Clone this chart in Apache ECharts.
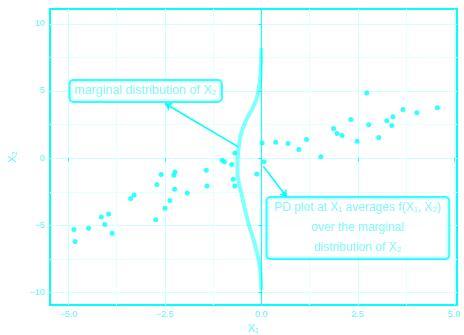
<!DOCTYPE html>
<html>
<head>
<meta charset="utf-8">
<script src="https://cdn.jsdelivr.net/npm/echarts@6/dist/echarts.min.js"></script>
<style>
html,body{margin:0;padding:0;background:#fff;}
#chart{width:464px;height:335px;}
</style>
</head>
<body>
<div id="chart"></div>
<script>
// ---- data ----
var pointsX1 = [-4.86,-4.83,-4.48,-4.15,-3.96,-4.06,-3.87,-3.39,-3.30,-2.60,-2.71,-2.50,-2.74,-2.37,-2.24,-2.27,-2.25,-1.92,-1.43,-1.41,-1.02,-0.96,-0.77,-0.69,-0.73,-0.69,-0.12,0.07,0.02,0.37,0.69,0.97,1.17,1.54,1.87,1.96,2.09,2.32,2.48,2.73,2.78,3.04,3.25,3.41,3.38,3.67,4.03,4.56];
var pointsX2 = [-5.31,-6.20,-5.21,-4.37,-4.15,-4.94,-5.58,-3.00,-2.73,-1.22,-1.96,-3.72,-4.57,-3.15,-1.02,-1.27,-2.31,-2.58,-0.89,-2.06,-0.15,-0.27,-0.47,0.39,-1.56,-2.06,-1.17,-0.27,1.14,1.19,1.09,0.65,1.39,0.10,2.21,1.84,1.69,2.88,1.27,4.86,2.48,1.54,2.78,3.08,2.43,3.62,3.38,3.75];
var densityX2 = [8.2, 7.0, 6.0, 5.0, 4.3, 3.6, 3.0, 2.4, 1.8, 1.2, 0.5, -0.3, -1.0, -1.8, -2.6, -3.9, -5.1, -6.3, -7.6, -8.6, -9.8];
var densityX1 = [0, -0.01, -0.03, -0.08, -0.14, -0.25, -0.37, -0.46, -0.53, -0.57, -0.60, -0.62, -0.62, -0.59, -0.52, -0.42, -0.31, -0.18, -0.07, -0.02, 0];
var pdX1 = 0;
var xTicks = [-5, -2.5, 0, 2.5, 5];
var xMinor = [-3.75, -1.25, 1.25, 3.75];
var yTicks = [-10, -5, 0, 5, 10];
var yMinor = [-7.5, -2.5, 2.5, 7.5];
var xTickLabels = ['\u22125.0', '\u22122.5', '0.0', '2.5', '5.0'];
var yTickLabels = ['\u221210', '\u22125', '0', '5', '10'];
var xRange = [-5.48, 5.07];
var yRange = [-10.92, 11.1];
var label1 = {x: -3, y: 5, text: 'marginal distribution of X\u2082'};
var label2 = {x: 2.5, y: -5.2, text: 'PD plot at X\u2081 averages f(X\u2081, X\u2082)\nover the marginal\ndistribution of X\u2082'};
var arrow1 = [[-0.6, 0.84], [-2.5, 4.07]];
var arrow2 = [[0.05, -0.6], [0.66, -2.9]];

var CYAN = '#00ffff';
var TXT = '#66f5f5';
var FONT = 'Liberation Sans';

var pts = pointsX1.map(function (v, i) { return [v, pointsX2[i]]; });
var dens = densityX1.map(function (v, i) { return [v, densityX2[i]]; });

function fmt(ticks, labels) {
  return function (v) {
    for (var i = 0; i < ticks.length; i++) if (Math.abs(ticks[i] - v) < 1e-6) return labels[i];
    return '';
  };
}

var chart = echarts.init(document.getElementById('chart'), null, {renderer: 'canvas'});
chart.setOption({
  animation: false,
  backgroundColor: '#ffffff',
  grid: [
    {left: 50, right: 7, top: 9, bottom: 30, containLabel: false, outerBoundsMode: 'none',
     show: true, borderColor: CYAN, borderWidth: 2, backgroundColor: 'transparent'}
  ],
  xAxis: [
    {
      type: 'value', min: xRange[0], max: xRange[1], gridIndex: 0,
      name: 'X\u2081', nameLocation: 'middle', nameGap: 14,
      nameTextStyle: {color: TXT, fontSize: 11, fontFamily: FONT},
      axisLine: {show: false},
      axisTick: {show: true, length: 3, lineStyle: {color: CYAN, width: 1}, customValues: xTicks},
      axisLabel: {color: TXT, fontSize: 9, fontFamily: FONT, margin: 5, customValues: xTicks, formatter: fmt(xTicks, xTickLabels)},
      splitLine: {show: true, lineStyle: {color: '#d0ffff', width: 1}}
    },
    {
      type: 'value', min: xRange[0], max: xRange[1], gridIndex: 0, position: 'bottom',
      axisLine: {show: false},
      axisTick: {show: false, customValues: xMinor},
      axisLabel: {show: false, customValues: xMinor},
      splitLine: {show: true, lineStyle: {color: '#e6ffff', width: 1}}
    }
  ],
  yAxis: [
    {
      type: 'value', min: yRange[0], max: yRange[1], gridIndex: 0,
      name: 'X\u2082', nameLocation: 'middle', nameGap: 30, nameRotate: 90,
      nameTextStyle: {color: TXT, fontSize: 11, fontFamily: FONT},
      axisLine: {show: false},
      axisTick: {show: true, length: 3, lineStyle: {color: CYAN, width: 1}, customValues: yTicks},
      axisLabel: {color: TXT, fontSize: 9, fontFamily: FONT, margin: 5, customValues: yTicks, formatter: fmt(yTicks, yTickLabels)},
      splitLine: {show: true, lineStyle: {color: '#d0ffff', width: 1}}
    },
    {
      type: 'value', min: yRange[0], max: yRange[1], gridIndex: 0, position: 'left',
      axisLine: {show: false},
      axisTick: {show: false, customValues: yMinor},
      axisLabel: {show: false, customValues: yMinor},
      splitLine: {show: true, lineStyle: {color: '#e6ffff', width: 1}}
    }
  ],
  series: [
    {
      type: 'scatter', xAxisIndex: 0, yAxisIndex: 0, data: pts,
      symbolSize: 5, itemStyle: {color: CYAN}, silent: true, z: 3
    },
    {
      type: 'line', xAxisIndex: 0, yAxisIndex: 0, data: dens, smooth: 0.25,
      showSymbol: false, lineStyle: {color: CYAN, width: 4, opacity: 0.5}, z: 2
    },
    {
      type: 'line', xAxisIndex: 0, yAxisIndex: 0, data: [[pdX1, yRange[0]], [pdX1, yRange[1]]],
      showSymbol: false, lineStyle: {color: CYAN, width: 1}, z: 2
    },
    {
      type: 'lines', coordinateSystem: 'cartesian2d', xAxisIndex: 0, yAxisIndex: 0,
      data: [{coords: arrow1}, {coords: arrow2}],
      symbol: ['none', 'arrow'], symbolSize: 7,
      lineStyle: {color: CYAN, width: 1.5, opacity: 1}, z: 4
    },
    {
      type: 'scatter', xAxisIndex: 0, yAxisIndex: 0, symbolSize: 0, z: 5,
      data: [
        {value: [label1.x, label1.y], label: {
          show: true, position: 'inside', formatter: label1.text,
          color: TXT, fontSize: 12.5, fontFamily: FONT,
          backgroundColor: '#ffffff', borderColor: CYAN, borderWidth: 2, borderRadius: 3,
          padding: [4, 4, 3, 4]
        }},
        {value: [label2.x, label2.y], label: {
          show: true, position: 'inside', formatter: label2.text, align: 'center',
          color: TXT, fontSize: 12, fontFamily: FONT, lineHeight: 20,
          backgroundColor: '#ffffff', borderColor: CYAN, borderWidth: 2, borderRadius: 3,
          padding: [0, 7, 0, 7]
        }}
      ]
    }
  ]
});
</script>
</body>
</html>
